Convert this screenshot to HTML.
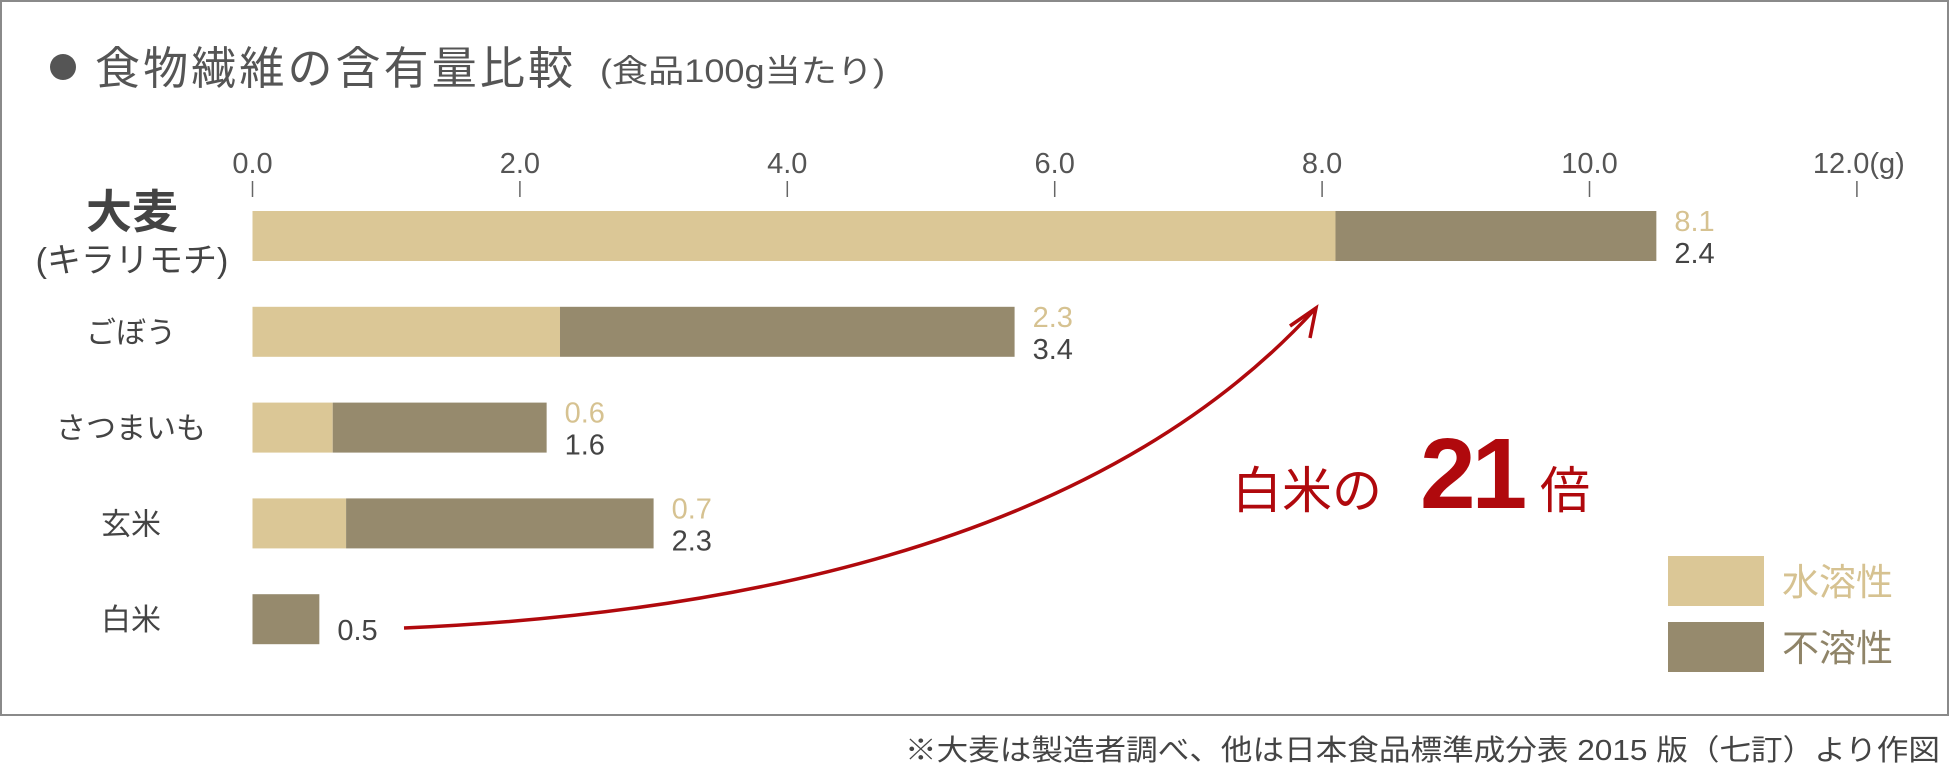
<!DOCTYPE html>
<html><head><meta charset="utf-8">
<style>
html,body{margin:0;padding:0;background:#fff;}
svg{display:block;font-family:"Liberation Sans","Noto Sans CJK JP",sans-serif;}
</style></head>
<body>
<svg id="chart" width="1950" height="768" viewBox="0 0 1950 768">
  <rect x="1" y="1" width="1947" height="714" fill="#fff" stroke="#8a8a8a" stroke-width="2"/>
  <circle cx="63" cy="67" r="13" fill="#555"/>
  <text x="95" y="84" font-size="45" fill="#555" textLength="478" lengthAdjust="spacing">食物繊維の含有量比較</text>
  <text x="600" y="82" font-size="32" fill="#555" textLength="285" lengthAdjust="spacingAndGlyphs">(食品100g当たり)</text>
  <g id="axis"></g>
  <g id="bars"></g>
  <g id="labels"></g>
  <path id="arrow" fill="none" stroke="#b0090d" stroke-width="3.5"/>
  <path d="M1290,326 L1316,308 L1310,338" fill="none" stroke="#b0090d" stroke-width="3.5" stroke-linejoin="miter"/>
  <text y="508" font-size="50" fill="#b0090d"><tspan x="1232">白米の</tspan><tspan x="1420" font-size="100" font-weight="bold" letter-spacing="-4">21</tspan><tspan x="1540" font-size="50">倍</tspan></text>
  <rect x="1668" y="556" width="96" height="50" fill="#dbc796"/>
  <text x="1782" y="595" font-size="37" fill="#d6c291">水溶性</text>
  <rect x="1668" y="622" width="96" height="50" fill="#968a6d"/>
  <text x="1782" y="661" font-size="37" fill="#8f8468">不溶性</text>
  <text x="905" y="760" font-size="29" fill="#444" textLength="1035" lengthAdjust="spacingAndGlyphs">※大麦は製造者調べ、他は日本食品標準成分表 2015 版（七訂）より作図</text>
</svg>
<script>
const categories = ["大麦", "ごぼう", "さつまいも", "玄米", "白米"];
const soluble = [8.1, 2.3, 0.6, 0.7, 0];
const insoluble = [2.4, 3.4, 1.6, 2.3, 0.5];
const tickValues = [0, 2, 4, 6, 8, 10, 12];
const tickLabels = ["0.0", "2.0", "4.0", "6.0", "8.0", "10.0", "12.0(g)"];

const NS = "http://www.w3.org/2000/svg";
const X0 = 252.5, PER = 133.7;
const x = v => X0 + v * PER;
const yTop = i => 211 + i * 95.8;
const BH = 50;
function mk(tag, attrs, parent, txt) {
  const e = document.createElementNS(NS, tag);
  for (const k in attrs) e.setAttribute(k, attrs[k]);
  if (txt !== undefined) e.textContent = txt;
  parent.appendChild(e);
  return e;
}
const axis = document.getElementById("axis");
tickValues.forEach((v, i) => {
  const l = mk("line", {x1: x(v), x2: x(v), y1: 181, y2: 197, stroke: "#666", "stroke-width": 1.5}, axis);
  
  
  const last = i === tickValues.length - 1;
  const t = mk("text", {x: last ? x(v) - 44 : x(v), y: 173, "font-size": 29, fill: "#555", "text-anchor": last ? "start" : "middle"}, axis, tickLabels[i]);
  
  
});
const bars = document.getElementById("bars");
const labels = document.getElementById("labels");
categories.forEach((c, i) => {
  const y = yTop(i);
  if (soluble[i] > 0) {
    const r = mk("rect", {x: x(0), y: y, width: soluble[i] * PER, height: BH, fill: "#dbc796"}, bars);
    
    
  }
  const r2 = mk("rect", {x: x(soluble[i]), y: y, width: insoluble[i] * PER, height: BH, fill: "#968a6d"}, bars);
  
  
  const end = x(soluble[i] + insoluble[i]) + 18;
  const cy = y + BH / 2;
  if (soluble[i] > 0) {
    const a = mk("text", {x: end, y: cy - 5, "font-size": 29, fill: "#d6c291"}, bars, soluble[i].toFixed(1));
    
    
    const b = mk("text", {x: end, y: cy + 27, "font-size": 29, fill: "#444"}, bars, insoluble[i].toFixed(1));
    
    
  } else {
    const b = mk("text", {x: end, y: cy + 21, "font-size": 29, fill: "#444"}, bars, insoluble[i].toFixed(1));
    
    
  }
  if (i === 0) {
    const t = mk("text", {x: 132, y: 228, "font-size": 46, fill: "#444", "text-anchor": "middle", "font-weight": "bold"}, labels, c);
    
    
    const s = mk("text", {x: 132, y: 272, "font-size": 34, fill: "#444", "text-anchor": "middle"}, labels, "(キラリモチ)");
    
    
  } else {
    const t = mk("text", {x: 131, y: cy + 11, "font-size": 30, fill: "#444", "text-anchor": "middle"}, labels, c);
    
    
  }
});
document.getElementById("arrow").setAttribute("d", "M404,628 Q1050,600 1316,308");
</script>
</body></html>
